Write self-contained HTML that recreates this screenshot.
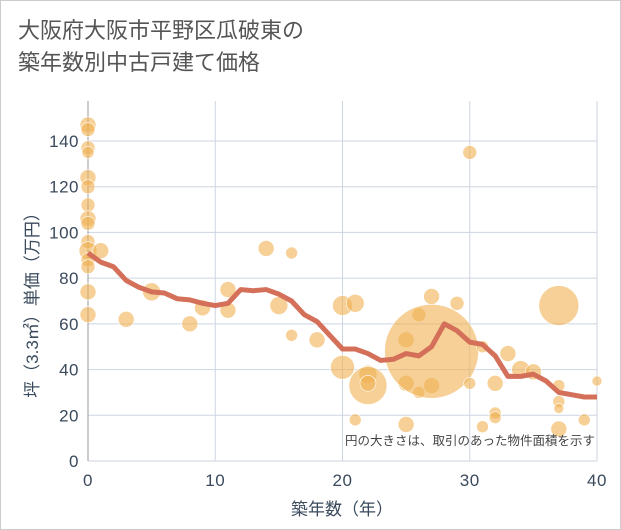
<!DOCTYPE html>
<html><head><meta charset="utf-8"><style>
body{margin:0;background:#fff;}
#wrap{width:619px;height:528px;border:1px solid #ccc;position:relative;font-family:"Liberation Sans","Noto Sans CJK JP",sans-serif;}
.title{position:absolute;left:17px;top:14px;font-size:22px;line-height:32px;color:#555;}
</style></head><body>
<div id="wrap">
<div class="title">大阪府大阪市平野区瓜破東の<br>築年数別中古戸建て価格</div>
<svg id="chart" width="619" height="528" style="position:absolute;left:0;top:0"></svg>
</div>
<script>
const xTicks=[0,10,20,30,40];
const yTicks=[0,20,40,60,80,100,120,140];
const lineYears=[0,1,2,3,4,5,6,7,8,9,10,11,12,13,14,15,16,17,18,19,20,21,22,23,24,25,26,27,28,29,30,31,32,33,34,35,36,37,38,39,40];
const lineValues=[91,87,85,79,76,74,73.5,71,70.5,69,68,69,75,74.5,75,73,70,64,61,55,49,49,47,44,44.5,47,46,50,60,57,52,51,46,37,37,38,35,30,29,28,28];
const bubbleYears=[0,0,0,0,0,0,0,0,0,0,0,0,0,0,0,1,3,5,8,9,11,11,14,15,16,16,18,20,20,21,21,22,22,22,25,25,25,26,26,27,27,27,29,30,30,31,31,32,32,32,33,34,35,37,37,37,37,37,39,40];
const bubbleValues=[147,145,137,135,124,120,112,106,104,96,92,88,85,74,64,92,62,74,60,67,75,66,93,68,91,55,53,68,41,69,18,38,33,34,53,34,16,30,64,72,33,48,69,135,34,50,15,34,21,19,47,40,39,68,33,26,23,14,18,35];
const bubbleSizes=[8,7,7,6,8,7,7,8,7,7,9,7,7,8,8,8,8,9,8,8,8,8,8,9,6,6,8,10,12,9,6,9,19,8,8,8,8,6,7,8,8,47,7,7,6,6,6,8,6,6,8,9,8,20,6,6,5,8,6,5];
const NS='http://www.w3.org/2000/svg';
const svg=document.getElementById('chart');
const X0=87,X1=596,Y0=460,Y1=140;
const xs=v=>X0+(v/40)*(X1-X0);
const ys=v=>Y0-(v/140)*(Y0-Y1);
function mk(t,a){const e=document.createElementNS(NS,t);for(const k in a)e.setAttribute(k,a[k]);svg.appendChild(e);return e;}
yTicks.forEach(t=>{
 const g=mk('line',{x1:X0,x2:X1,y1:ys(t),y2:ys(t),stroke:'#cdd5e0','stroke-width':1});
 
 
 const l=mk('text',{x:X0-9,y:ys(t)+6,'text-anchor':'end','font-size':17,fill:'#3a4a5c','letter-spacing':'0.5'});
 l.textContent=t;
 
 
});
xTicks.forEach(t=>{
 const g=mk('line',{x1:xs(t),x2:xs(t),y1:100,y2:Y0,stroke:'#cdd5e0','stroke-width':1});
 
 
 const l=mk('text',{x:xs(t),y:485,'text-anchor':'middle','font-size':17,fill:'#3a4a5c','letter-spacing':'0.5'});
 l.textContent=t;
 
 
});
const ax=mk('line',{x1:X0,x2:X0,y1:100,y2:Y0,stroke:'#999','stroke-width':1});


bubbleYears.forEach((yr,i)=>{
 const c=mk('circle',{cx:xs(yr),cy:ys(bubbleValues[i]),r:bubbleSizes[i],fill:'#f0b050','fill-opacity':0.6,stroke:'#fff','stroke-width':0.6});
 
 
});
const p=mk('polyline',{points:lineYears.map((y,i)=>xs(y)+','+ys(lineValues[i])).join(' '),fill:'none',stroke:'#d4705a','stroke-width':5,'stroke-linejoin':'round'});


const n=mk('text',{x:594,y:444,'text-anchor':'end','font-size':12.5,fill:'#444'});
n.textContent='円の大きさは、取引のあった物件面積を示す';


const xt=mk('text',{x:341,y:514,'text-anchor':'middle','font-size':17,fill:'#3a4a5c'});
xt.textContent='築年数（年）';


const yt=mk('text',{x:0,y:0,'text-anchor':'middle','font-size':17,fill:'#3a4a5c',transform:'translate(37,300) rotate(-90)'});
yt.textContent='坪（3.3㎡）単価（万円）';


</script>
</body></html>
